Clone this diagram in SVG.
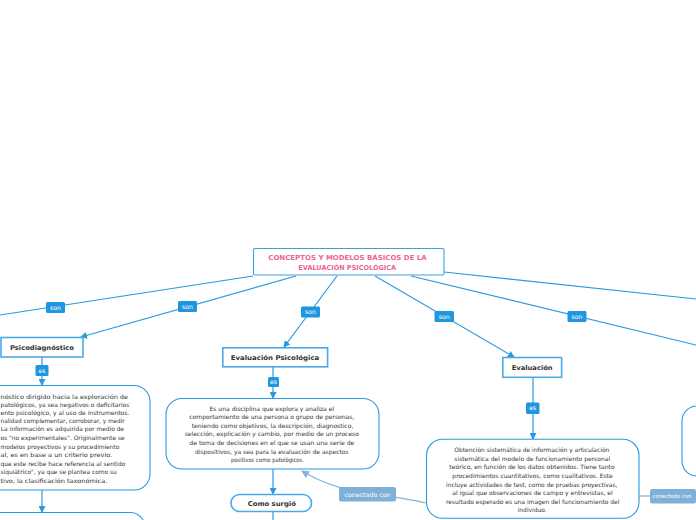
<svg xmlns="http://www.w3.org/2000/svg" width="696" height="520" viewBox="0 0 696 520">
<style>
.ln{stroke:#2a9ae0;stroke-width:1.2;fill:none}
.cn{stroke:#7db5e2;stroke-width:1.2;fill:none}
.tag{fill:#1f96df}
.tagt{font-family:"DejaVu Sans",sans-serif;font-size:6.2px;fill:#fff;text-anchor:middle}
.ctag{fill:#7fb1d8}
.node{fill:#fff;stroke:#4aa9e8;stroke-width:1.6}
.nt{font-family:"DejaVu Sans",sans-serif;font-size:6.6px;font-weight:bold;fill:#333;text-anchor:middle}
.box{fill:#fff;stroke:#2a9ae0;stroke-width:1.1}
.bt{font-family:"DejaVu Sans",sans-serif;font-size:6px;fill:#333;text-anchor:middle}
.bl{font-family:"DejaVu Sans",sans-serif;font-size:6px;fill:#333;text-anchor:start}
.rt{font-family:"DejaVu Sans",sans-serif;font-size:6.8px;font-weight:bold;fill:#ec6592;text-anchor:middle}
</style>
<defs>
<marker id="ar" markerWidth="7" markerHeight="7" refX="6" refY="3.5" orient="auto" markerUnits="userSpaceOnUse">
<path d="M0,0 L7,3.5 L0,7 z" fill="#2a9ae0"/>
</marker>
<marker id="arc" markerWidth="8" markerHeight="8" refX="7" refY="4" orient="auto" markerUnits="userSpaceOnUse">
<path d="M0,0 L8,4 L0,8 z" fill="#7db5e2"/>
</marker>
</defs>
<rect width="696" height="520" fill="#fff"/>

<g id="connectors">
<path class="ln" d="M253,276 L0,315"/>
<path class="ln" d="M296,276 L81,337" marker-end="url(#ar)"/>
<path class="ln" d="M337,276 L284,347" marker-end="url(#ar)"/>
<path class="ln" d="M375,276 L514,357" marker-end="url(#ar)"/>
<path class="ln" d="M411,276 L696,345"/>
<path class="ln" d="M444,272 L696,299"/>
<path class="ln" d="M42,357 L42,385" marker-end="url(#ar)"/>
<path class="ln" d="M42,490 L42,512" marker-end="url(#ar)"/>
<path class="ln" d="M273,367 L273,398" marker-end="url(#ar)"/>
<path class="ln" d="M273,469 L273,494" marker-end="url(#ar)"/>
<path class="ln" d="M273,512 L273,520"/>
<path class="ln" d="M533,377 L533,439" marker-end="url(#ar)"/>
<path class="cn" d="M426,503 C405,498 385,496 367,494 C345,490 320,482 302,471" marker-end="url(#arc)"/>
<path class="cn" d="M639,496 L650,496"/>
<rect class="tag" x="46" y="302" width="19" height="11" rx="1.5"/>
<text class="tagt" x="55.5" y="309.5">son</text>
<rect class="tag" x="178" y="301" width="19" height="11" rx="1.5"/>
<text class="tagt" x="187.5" y="308.5">son</text>
<rect class="tag" x="301" y="306.5" width="19" height="11" rx="1.5"/>
<text class="tagt" x="310.5" y="314">son</text>
<rect class="tag" x="434.5" y="311" width="19.5" height="11" rx="1.5"/>
<text class="tagt" x="444.2" y="318.5">son</text>
<rect class="tag" x="567.5" y="311" width="19" height="11" rx="1.5"/>
<text class="tagt" x="577" y="318.5">son</text>
<rect class="tag" x="35.5" y="365" width="13" height="11" rx="1.5"/>
<text class="tagt" x="42" y="372.5">es</text>
<rect class="tag" x="268" y="377" width="11" height="10" rx="1.5"/>
<text class="tagt" x="273.5" y="384">es</text>
<rect class="tag" x="526" y="402.5" width="13.5" height="11.5" rx="1.5"/>
<text class="tagt" x="532.8" y="410">es</text>
<rect class="ctag" x="339" y="487" width="57" height="14.5" rx="2"/>
<text class="tagt" x="367.5" y="496.5" textLength="46" lengthAdjust="spacingAndGlyphs">conectado con</text>
<rect class="ctag" x="650" y="489" width="46" height="14.5" rx="2"/>
<text class="tagt" x="652.5" y="498.3" style="text-anchor:start;font-size:5.3px">conectado con</text>
</g>

<g id="root">
<rect x="253.5" y="248.5" width="190.5" height="26.5" rx="1.5" fill="#fff" stroke="#3a9fe3" stroke-width="1.1"/>
<text class="rt" x="347.5" y="260.3" textLength="158.4" lengthAdjust="spacingAndGlyphs">CONCEPTOS Y MODELOS BÁSICOS DE LA</text>
<text class="rt" x="347.2" y="269.5" textLength="97.7" lengthAdjust="spacingAndGlyphs">EVALUACIÓN PSICOLÓGICA</text>
</g>

<g id="psicodiagnostico">
<rect class="node" x="1" y="337.5" width="82" height="19.5"/>
<text class="nt" x="42" y="350" textLength="64" lengthAdjust="spacingAndGlyphs">Psicodiagnóstico</text>
</g>

<g id="psicodiagnostico-desc">
<rect class="box" x="-60" y="385.5" width="210" height="104.5" rx="16"/>
<text class="bl" x="0.5" y="398.7" textLength="127.5" lengthAdjust="spacingAndGlyphs">nóstico dirigido hacia la exploración de</text>
<text class="bl" x="0.5" y="406.7" textLength="128.8" lengthAdjust="spacingAndGlyphs">patológicos, ya sea negativos o deficitarios</text>
<text class="bl" x="0.5" y="414.5" textLength="128.8" lengthAdjust="spacingAndGlyphs">ento psicológico, y al uso de instrumentos.</text>
<text class="bl" x="0.5" y="422.9" textLength="124.2" lengthAdjust="spacingAndGlyphs">nalidad complementar, corroborar, y medir</text>
<text class="bl" x="0.8" y="431.4" textLength="123.2" lengthAdjust="spacingAndGlyphs">La información es adquirida por medio de</text>
<text class="bl" x="0.5" y="439.9" textLength="124.2" lengthAdjust="spacingAndGlyphs">os "no experimentales". Originalmente se</text>
<text class="bl" x="0.5" y="449.2" textLength="118.8" lengthAdjust="spacingAndGlyphs">modelos proyectivos y su procedimiento</text>
<text class="bl" x="0.5" y="457.2" textLength="111.8" lengthAdjust="spacingAndGlyphs">al, es en base a un criterio previo.</text>
<text class="bl" x="0.5" y="465.5" textLength="124.8" lengthAdjust="spacingAndGlyphs">que este recibe hace referencia al sentido</text>
<text class="bl" x="0.5" y="474.2" textLength="116.2" lengthAdjust="spacingAndGlyphs">siquiátrico", ya que se plantea como su</text>
<text class="bl" x="0.5" y="483.2" textLength="106.8" lengthAdjust="spacingAndGlyphs">tivo, la clasificación taxonómica.</text>
</g>

<g id="psicodiagnostico-next">
<rect class="box" x="-60" y="512.5" width="205" height="60" rx="15"/>
</g>

<g id="evaluacion-psicologica">
<rect class="node" x="222.8" y="347.8" width="104.8" height="19"/>
<text class="nt" x="275" y="360" textLength="88.6" lengthAdjust="spacingAndGlyphs">Evaluación Psicológica</text>
</g>

<g id="evaluacion-psicologica-desc">
<rect class="box" x="166" y="398.5" width="213" height="70.5" rx="16"/>
<text class="bt" x="271.8" y="410.5" textLength="124.7" lengthAdjust="spacingAndGlyphs">Es una disciplina que explora y analiza el</text>
<text class="bt" x="271.8" y="418.9" textLength="165" lengthAdjust="spacingAndGlyphs">comportamiento de una persona o grupo de personas,</text>
<text class="bt" x="272.5" y="427.9" textLength="161.7" lengthAdjust="spacingAndGlyphs">teniendo como objetivos, la descripción, diagnostico,</text>
<text class="bt" x="271.8" y="436.2" textLength="174.3" lengthAdjust="spacingAndGlyphs">selección, explicación y cambio, por medio de un proceso</text>
<text class="bt" x="271.8" y="444.9" textLength="165" lengthAdjust="spacingAndGlyphs">de toma de decisiones en el que se usan una serie de</text>
<text class="bt" x="271.8" y="453.5" textLength="153.7" lengthAdjust="spacingAndGlyphs">dispositivos, ya sea para la evaluación de aspectos</text>
<text class="bt" x="267.5" y="462.2" textLength="73" lengthAdjust="spacingAndGlyphs">positivos como patológicos.</text>
</g>

<g id="como-surgio">
<rect class="node" x="231" y="494.5" width="80.5" height="17" rx="8.5"/>
<text class="nt" x="271.8" y="505.5" textLength="48.3" lengthAdjust="spacingAndGlyphs">Como surgió</text>
</g>

<g id="evaluacion">
<rect class="node" x="502.8" y="357.5" width="58.8" height="19.8"/>
<text class="nt" x="532.2" y="370" textLength="41" lengthAdjust="spacingAndGlyphs">Evaluación</text>
</g>

<g id="evaluacion-desc">
<rect class="box" x="426.5" y="439.3" width="212.5" height="79" rx="16"/>
<text class="bt" x="531.8" y="452.2" textLength="155" lengthAdjust="spacingAndGlyphs">Obtención sistemática de información y articulación</text>
<text class="bt" x="532.2" y="460.9" textLength="155.7" lengthAdjust="spacingAndGlyphs">sistemática del modelo de funcionamiento personal</text>
<text class="bt" x="532" y="469.2" textLength="165.3" lengthAdjust="spacingAndGlyphs">teórico, en función de los datos obtenidos. Tiene tanto</text>
<text class="bt" x="532.5" y="478.2" textLength="160.3" lengthAdjust="spacingAndGlyphs">procedimientos cuantitativos, como cualitativos. Este</text>
<text class="bt" x="531.7" y="486.5" textLength="171.3" lengthAdjust="spacingAndGlyphs">incluye actividades de test, como de pruebas proyectivas,</text>
<text class="bt" x="532.5" y="495.2" textLength="160.3" lengthAdjust="spacingAndGlyphs">al igual que observaciones de campo y entrevistas, el</text>
<text class="bt" x="532.7" y="503.9" textLength="173.3" lengthAdjust="spacingAndGlyphs">resultado esperado es una imagen del funcionamiento del</text>
<text class="bt" x="532.2" y="512.2" textLength="29" lengthAdjust="spacingAndGlyphs">individuo.</text>
</g>

<g id="right-box">
<rect class="box" x="682" y="406" width="100" height="70" rx="15"/>
</g>
</svg>
